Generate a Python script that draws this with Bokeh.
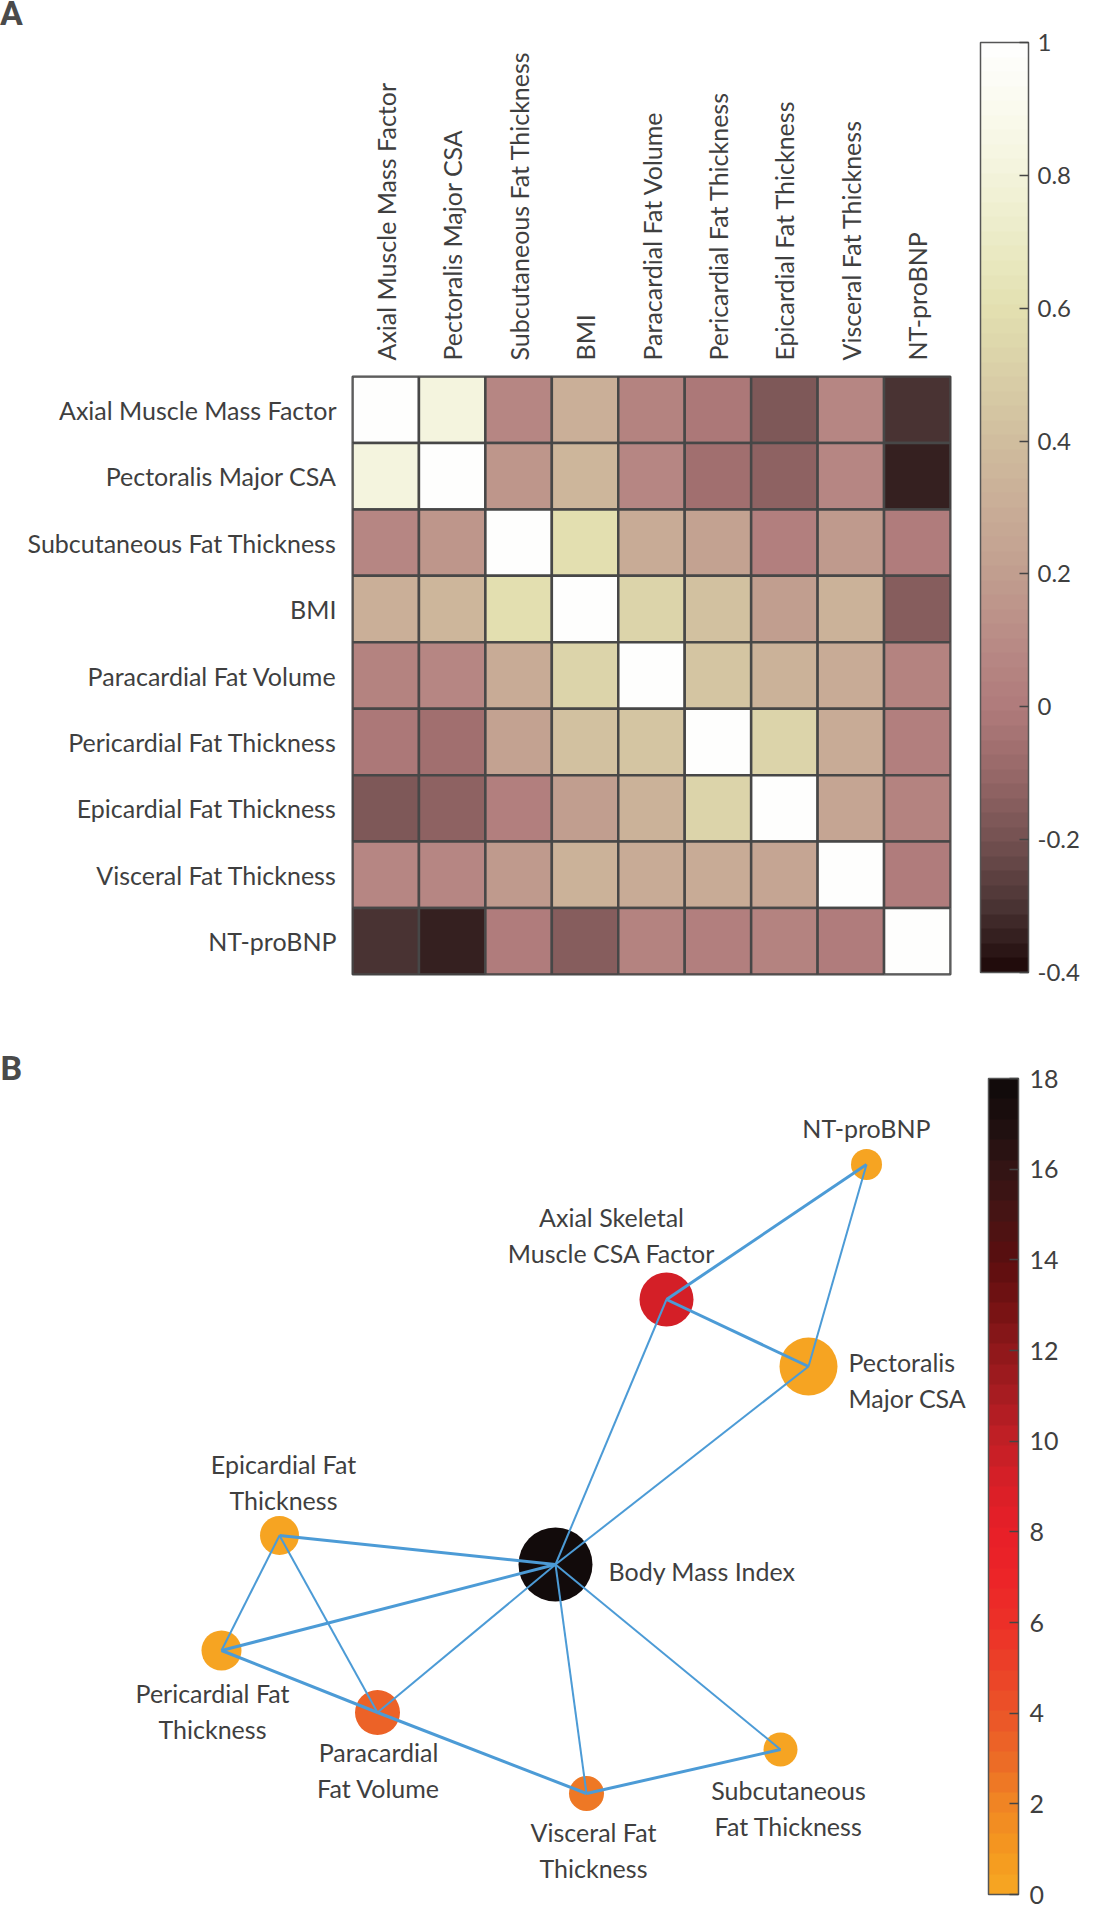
import math
import numpy as np
from bokeh.plotting import figure
from bokeh.models import (ColumnDataSource, LinearColorMapper, ColorBar, FixedTicker,
                          Label, Range1d, FactorRange, Div)
from bokeh.layouts import column
from bokeh.embed import file_html
from bokeh.resources import INLINE
from bokeh.core.properties import value
from bokeh.transform import transform

# ---------------- DATA ----------------
hm_labels = ["Axial Muscle Mass Factor", "Pectoralis Major CSA", "Subcutaneous Fat Thickness",
             "BMI", "Paracardial Fat Volume", "Pericardial Fat Thickness",
             "Epicardial Fat Thickness", "Visceral Fat Thickness", "NT-proBNP"]
corr = [
    [1.00, 0.82, 0.07, 0.30, 0.04, -0.02, -0.17, 0.07, -0.30],
    [0.82, 1.00, 0.15, 0.36, 0.06, -0.06, -0.13, 0.08, -0.34],
    [0.07, 0.15, 1.00, 0.60, 0.28, 0.22, 0.02, 0.17, 0.00],
    [0.30, 0.36, 0.60, 1.00, 0.52, 0.42, 0.20, 0.33, -0.14],
    [0.04, 0.06, 0.28, 0.52, 1.00, 0.44, 0.33, 0.28, 0.04],
    [-0.02, -0.06, 0.22, 0.42, 0.44, 1.00, 0.52, 0.28, 0.03],
    [-0.17, -0.13, 0.02, 0.20, 0.33, 0.52, 1.00, 0.24, 0.04],
    [0.07, 0.08, 0.17, 0.33, 0.28, 0.28, 0.24, 1.00, 0.00],
    [-0.30, -0.34, 0.00, -0.14, 0.04, 0.03, 0.04, 0.00, 1.00],
]
corr_ticks = [-0.4, -0.2, 0.0, 0.2, 0.4, 0.6, 0.8, 1.0]
corr_tick_labels = ["-0.4", "-0.2", "0", "0.2", "0.4", "0.6", "0.8", "1"]

node_names = ["NT-proBNP", "Axial Skeletal\nMuscle CSA Factor", "Pectoralis\nMajor CSA",
              "Body Mass Index", "Epicardial Fat\nThickness", "Pericardial Fat\nThickness",
              "Paracardial\nFat Volume", "Visceral Fat\nThickness", "Subcutaneous\nFat Thickness"]
node_x = [874, 674, 816, 563, 287, 229, 385, 594, 788]
node_y = [1172, 1307, 1374, 1572, 1543, 1658, 1720, 1801, 1757]
node_value = [0, 9, 0, 18, 0, 0, 3.6, 2.7, 0]
node_size = [31, 54, 58, 74, 39, 40, 45, 35, 34]
edges = [(0, 1), (0, 2), (1, 2), (1, 3), (2, 3), (3, 4), (3, 5), (3, 6), (3, 7), (3, 8),
         (4, 5), (4, 6), (5, 6), (6, 7), (7, 8)]
edge_weight = [3, 2, 3, 2, 2, 3, 3, 2, 2, 2, 2, 2, 3, 3, 3]
net_ticks = [0, 2, 4, 6, 8, 10, 12, 14, 16, 18]

# ---------------- STYLE ----------------
FONT = "Lato"
TXT = "#3f3f3f"


def interp_palette(anchors, n, lo, hi):
    vals = np.array([a[0] for a in anchors], dtype=float)
    cols = np.array([[int(c[1:3], 16), int(c[3:5], 16), int(c[5:7], 16)] for _, c in anchors], dtype=float)
    out = []
    for i in range(n):
        v = lo + (i + 0.5) * (hi - lo) / n
        rgb = [int(round(np.interp(v, vals, cols[:, k]))) for k in range(3)]
        out.append("#%02x%02x%02x" % tuple(rgb))
    return out


anchorsA = [(-0.4, "#1c0707"), (-0.3, "#4a3434"), (-0.2, "#745151"), (-0.1, "#976868"),
            (0.0, "#b07b7b"), (0.1, "#b98b86"), (0.2, "#c19e8f"), (0.3, "#c9ad97"),
            (0.4, "#d0bd9e"), (0.5, "#d9cfa7"), (0.6, "#e3e0b0"), (0.7, "#ebebc6"),
            (0.8, "#f3f3db"), (0.9, "#fafaee"), (1.0, "#ffffff")]
anchorsB = [(0, "#f7a823"), (1, "#f4971f"), (2, "#f08524"), (3, "#ec6a26"), (4, "#eb5428"),
            (5, "#eb4128"), (6, "#ec3028"), (7, "#ec2528"), (8, "#e81f28"), (9, "#d91f27"),
            (10, "#c21f26"), (11, "#a81c21"), (12, "#8f181b"), (13, "#741213"), (14, "#5b0e0f"),
            (15, "#461414"), (16, "#321414"), (17, "#1e0f0f"), (18, "#0e0a0a")]
paletteA = interp_palette(anchorsA, 64, -0.4, 1.0)
paletteB = interp_palette(anchorsB, 40, 0, 18)


def no_align(p):
    if "frame_align" in p.properties():
        p.frame_align = False


# ---------------- PANEL A ----------------
divA = Div(text="A", width=60, height=26,
           styles={"font-family": "Roboto", "font-weight": "bold", "font-size": "34px",
                   "color": "#4a4a4a", "line-height": "26px", "margin": "0", "padding": "0"})

n = len(hm_labels)
src = ColumnDataSource(dict(
    col=[hm_labels[j] for i in range(n) for j in range(n)],
    row=[hm_labels[i] for i in range(n) for j in range(n)],
    r=[corr[i][j] for i in range(n) for j in range(n)],
))
mapA = LinearColorMapper(palette=paletteA, low=-0.4, high=1.0)

pA = figure(x_range=FactorRange(*hm_labels), y_range=FactorRange(*hm_labels[::-1]),
            frame_width=598, frame_height=598,
            min_border_left=352, min_border_right=131, min_border_top=350, min_border_bottom=58,
            x_axis_location="above", toolbar_location=None, tools="", output_backend="svg")
no_align(pA)
pA.rect(x="col", y="row", width=1, height=1, source=src,
        fill_color=transform("r", mapA), line_color="#474747", line_width=2.5)
pA.grid.visible = False
pA.outline_line_color = "#474747"
pA.outline_line_width = 2
for ax in (pA.xaxis[0], pA.yaxis[0]):
    ax.axis_line_color = None
    ax.major_tick_line_color = None
    ax.minor_tick_line_color = None
    ax.major_label_text_font = FONT
    ax.major_label_text_font_size = "25px"
    ax.major_label_text_color = TXT
    ax.major_label_standoff = 10
pA.xaxis.major_label_orientation = math.pi / 2

cbA = ColorBar(color_mapper=mapA, ticker=FixedTicker(ticks=corr_ticks),
               major_label_overrides=dict(zip(corr_ticks, corr_tick_labels)),
               width=48, height=930, location=(628, 2), padding=0, margin=0,
               label_standoff=9, major_tick_in=9, major_tick_out=0,
               major_tick_line_color="#444444", major_tick_line_width=1.5,
               minor_tick_line_color=None, bar_line_color="#555555", bar_line_width=1.5,
               major_label_text_font=FONT, major_label_text_font_size="24px",
               major_label_text_color=TXT, background_fill_alpha=0, border_line_color=None)
pA.add_layout(cbA)

# ---------------- PANEL B ----------------
mapB = LinearColorMapper(palette=paletteB, low=0, high=18)
pB = figure(x_range=Range1d(8, 1089), y_range=Range1d(1916, 1040),
            frame_width=1081, frame_height=876,
            min_border=0, x_axis_location=None, y_axis_location=None,
            toolbar_location=None, tools="", output_backend="svg")
no_align(pB)
pB.grid.visible = False
pB.outline_line_color = None

nsrc = ColumnDataSource(dict(x=node_x, y=node_y, v=node_value, s=node_size, name=node_names))
pB.scatter(x="x", y="y", size="s", source=nsrc, fill_color=transform("v", mapB), line_color=None)
pB.segment(x0=[node_x[a] for a, b in edges], y0=[node_y[a] for a, b in edges],
           x1=[node_x[b] for a, b in edges], y1=[node_y[b] for a, b in edges],
           line_width=edge_weight, line_color="#4c9bd6")

# label placement (screen offsets)
lab_dx = [0, -55, 40, 53, 4, -9, 1, 7, 8]
lab_dy = [-37, -65, 13, 6, -54, 60, 57, 56, 58]
lab_left = [False, False, True, True, False, False, False, False, False]
for left in (False, True):
    idx = [i for i in range(len(node_names)) if lab_left[i] == left]
    lsrc = ColumnDataSource(dict(x=[node_x[i] for i in idx], y=[node_y[i] for i in idx],
                                 t=[node_names[i] for i in idx],
                                 dx=[lab_dx[i] for i in idx], dy=[lab_dy[i] for i in idx]))
    pB.text(x="x", y="y", text="t", x_offset="dx", y_offset="dy", source=lsrc,
            text_font=value(FONT), text_font_size="25px", text_color=TXT,
            text_align="left" if left else "center", text_baseline="middle",
            text_line_height=1.2)

cbB = ColorBar(color_mapper=mapB, ticker=FixedTicker(ticks=net_ticks),
               width=30, height=816, location=(988, 14), padding=0, margin=0,
               label_standoff=11, major_tick_in=9, major_tick_out=0,
               major_tick_line_color="#444444", major_tick_line_width=1.5,
               minor_tick_line_color=None, bar_line_color="#555555", bar_line_width=1.5,
               major_label_text_font=FONT, major_label_text_font_size="25px",
               major_label_text_color=TXT, background_fill_alpha=0, border_line_color=None)
pB.add_layout(cbB)
pB.add_layout(Label(x=0, y=841, x_units="screen", y_units="screen", text="B",
                    text_font="Roboto", text_font_style="bold", text_font_size="34px",
                    text_color="#4a4a4a", text_baseline="alphabetic"))

layout = column(divA, pA, pB, spacing=0)
open("out.html", "w").write(file_html(layout, INLINE, title="Correlation heatmap and network"))
